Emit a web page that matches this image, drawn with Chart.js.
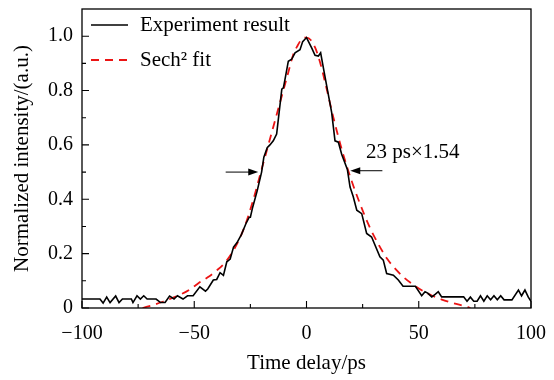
<!DOCTYPE html>
<html>
<head>
<meta charset="utf-8">
<title>Autocorrelation trace</title>
<script src="https://cdn.jsdelivr.net/npm/chart.js@4.4.1/dist/chart.umd.min.js"></script>
<style>
	html, body { margin: 0; padding: 0; background: #fff; }
	canvas { display: block; }
</style>
</head>
<body>
<canvas id="trace" width="554" height="380"></canvas>
<script>
// Measured autocorrelation (time delay in ps, normalized intensity)
const expDelay = [-100, -92, -90.6, -89, -87.5, -85, -83.5, -82, -78, -77.3, -75.5, -74, -72.5, -71, -67, -65, -63, -61, -59, -57.5, -55, -53, -50.5, -47.5, -45, -44, -41.5, -40, -38.5, -37, -35.5, -34, -32.5, -31, -29, -27, -25.5, -25, -24, -22, -20, -19, -17.5, -16.3, -14.8, -13.3, -11, -10.3, -9.6, -8.1, -6.6, -5.1, -2.9, -1.7, 0, 2.3, 3.8, 5.3, 6.3, 7.5, 9, 11.2, 12.7, 14.2, 15.7, 18.2, 19.4, 20.8, 22.4, 24.6, 26.8, 29, 32.7, 34.2, 35.7, 38.7, 40.9, 43, 48.5, 51.3, 52.8, 54, 55.8, 57.3, 58.7, 60.2, 70, 71.5, 73, 74.5, 76, 77.5, 79, 80.5, 82, 83.5, 85, 86.5, 88, 91.5, 94.4, 95.8, 97.3, 98.8, 100];
const expIntensity = [0.033, 0.033, 0.018, 0.04, 0.02, 0.044, 0.02, 0.033, 0.033, 0.02, 0.045, 0.033, 0.045, 0.033, 0.033, 0.02, 0.02, 0.044, 0.033, 0.045, 0.033, 0.045, 0.045, 0.078, 0.062, 0.07, 0.103, 0.105, 0.13, 0.12, 0.17, 0.18, 0.224, 0.24, 0.27, 0.31, 0.334, 0.334, 0.37, 0.43, 0.5, 0.555, 0.59, 0.6, 0.615, 0.64, 0.805, 0.81, 0.84, 0.908, 0.915, 0.939, 0.95, 0.98, 0.995, 0.957, 0.93, 0.927, 0.939, 0.884, 0.817, 0.72, 0.615, 0.61, 0.565, 0.51, 0.445, 0.41, 0.36, 0.347, 0.274, 0.261, 0.188, 0.176, 0.127, 0.121, 0.103, 0.08, 0.08, 0.045, 0.06, 0.055, 0.041, 0.05, 0.06, 0.041, 0.041, 0.025, 0.04, 0.025, 0.025, 0.045, 0.025, 0.045, 0.03, 0.045, 0.03, 0.045, 0.03, 0.03, 0.066, 0.045, 0.066, 0.04, 0.025];

// Sech² fit
const fitDelay = [-73, -68, -64, -60, -56, -52, -48, -44, -40, -36, -32, -28, -24, -20, -16, -12, -8, -6, -4, -2, 0, 2, 4, 6, 8, 12, 16, 20, 24, 28, 32, 36, 40, 44, 48, 52, 56, 60, 64, 68, 72, 73];
const fitIntensity = [0, 0.012, 0.023, 0.036, 0.05, 0.068, 0.092, 0.113, 0.138, 0.17, 0.22, 0.29, 0.39, 0.51, 0.63, 0.75, 0.87, 0.93, 0.965, 0.99, 0.995, 0.985, 0.955, 0.905, 0.84, 0.7, 0.575, 0.47, 0.38, 0.3, 0.235, 0.18, 0.14, 0.108, 0.083, 0.062, 0.045, 0.032, 0.021, 0.012, 0.003, 0];

const xTicks = [-100, -50, 0, 50, 100];
const xMinorTicks = [-75, -25, 25, 75];
const yTicks = [0, 0.2, 0.4, 0.6, 0.8, 1.0];
const yMinorTicks = [0.1, 0.3, 0.5, 0.7, 0.9];

const legendLabels = ['Experiment result', 'Sech\u00b2 fit'];
const widthNote = '23 ps\u00d71.54';
// half maximum markers: [tail delay, tip delay, intensity]
const leftMarker = [-36, -21.5, 0.5];
const rightMarker = [33.8, 19.5, 0.505];

const serif = '"Liberation Serif", "Times New Roman", serif';
const fitRed = 'rgb(235, 20, 20)';

function toPoints(xs, ys) {
	return xs.map((x, i) => ({ x: x, y: ys[i] }));
}

function drawArrow(ctx, x1, x2, y) {
	const dir = Math.sign(x2 - x1);
	ctx.beginPath();
	ctx.moveTo(x1, y);
	ctx.lineTo(x2 - dir * 6, y);
	ctx.stroke();
	ctx.beginPath();
	ctx.moveTo(x2, y);
	ctx.lineTo(x2 - dir * 10, y - 3.5);
	ctx.lineTo(x2 - dir * 10, y + 3.5);
	ctx.closePath();
	ctx.fill();
}

const decor = {
	id: 'decor',
	afterDraw(chart) {
		const ctx = chart.ctx;
		const area = chart.chartArea;
		const xs = chart.scales.x;
		const ys = chart.scales.y;
		ctx.save();
		ctx.strokeStyle = '#000';
		ctx.fillStyle = '#000';
		ctx.lineWidth = 1.3;
		ctx.strokeRect(area.left, area.top, area.right - area.left, area.bottom - area.top);

		// inward ticks on bottom and left
		ctx.lineWidth = 1.1;
		ctx.beginPath();
		xTicks.forEach(v => { const p = xs.getPixelForValue(v); ctx.moveTo(p, area.bottom); ctx.lineTo(p, area.bottom - 7); });
		xMinorTicks.forEach(v => { const p = xs.getPixelForValue(v); ctx.moveTo(p, area.bottom); ctx.lineTo(p, area.bottom - 4); });
		yTicks.forEach(v => { const p = ys.getPixelForValue(v); ctx.moveTo(area.left, p); ctx.lineTo(area.left + 7, p); });
		yMinorTicks.forEach(v => { const p = ys.getPixelForValue(v); ctx.moveTo(area.left, p); ctx.lineTo(area.left + 4, p); });
		ctx.stroke();

		// legend
		ctx.font = '21px ' + serif;
		ctx.textBaseline = 'middle';
		ctx.lineWidth = 1.6;
		ctx.beginPath();
		ctx.moveTo(area.left + 9, 25);
		ctx.lineTo(area.left + 46, 25);
		ctx.stroke();
		ctx.fillText(legendLabels[0], area.left + 58, 25);
		ctx.strokeStyle = fitRed;
		ctx.lineWidth = 1.8;
		ctx.setLineDash([8, 6]);
		ctx.beginPath();
		ctx.moveTo(area.left + 9, 60);
		ctx.lineTo(area.left + 46, 60);
		ctx.stroke();
		ctx.setLineDash([]);
		ctx.fillText(legendLabels[1], area.left + 58, 60);

		// FWHM arrows and note
		ctx.strokeStyle = '#000';
		ctx.lineWidth = 1;
		drawArrow(ctx, xs.getPixelForValue(leftMarker[0]), xs.getPixelForValue(leftMarker[1]), ys.getPixelForValue(leftMarker[2]));
		drawArrow(ctx, xs.getPixelForValue(rightMarker[0]), xs.getPixelForValue(rightMarker[1]), ys.getPixelForValue(rightMarker[2]));
		ctx.textBaseline = 'alphabetic';
		ctx.fillText(widthNote, xs.getPixelForValue(26.5), ys.getPixelForValue(0.552));
		ctx.restore();
	}
};

const chart = new Chart(document.getElementById('trace').getContext('2d'), {
	type: 'line',
	data: {
		datasets: [
			{
				label: legendLabels[0],
				data: toPoints(expDelay, expIntensity),
				borderColor: '#000',
				borderWidth: 1.6,
				pointRadius: 0,
				tension: 0,
				order: 0
			},
			{
				label: legendLabels[1],
				data: toPoints(fitDelay, fitIntensity),
				borderColor: fitRed,
				borderWidth: 1.8,
				borderDash: [8, 6],
				pointRadius: 0,
				cubicInterpolationMode: 'monotone',
				order: 1
			}
		]
	},
	options: {
		responsive: false,
		animation: false,
		layout: { padding: { top: 9, right: 23, left: 0, bottom: 0 } },
		plugins: {
			legend: { display: false },
			tooltip: { enabled: false }
		},
		scales: {
			x: {
				type: 'linear',
				min: -100,
				max: 100,
				afterBuildTicks: scale => { scale.ticks = xTicks.map(v => ({ value: v })); },
				afterFit: scale => {
					scale.height = 72;
					scale.paddingLeft = 0;
					scale.paddingRight = 0;
				},
				grid: { display: false, drawTicks: false },
				border: { display: false },
				ticks: {
					color: '#000',
					padding: 14,
					font: { family: serif, size: 20 },
					callback: v => String(v).replace('-', '\u2212')
				},
				title: {
					display: true,
					text: 'Time delay/ps',
					color: '#000',
					font: { family: serif, size: 21 },
					padding: { top: 0, bottom: 4 }
				}
			},
			y: {
				min: 0,
				max: 1.1,
				afterBuildTicks: scale => { scale.ticks = yTicks.map(v => ({ value: v })); },
				afterFit: scale => {
					scale.width = 82;
					scale.paddingTop = 0;
					scale.paddingBottom = 0;
				},
				grid: { display: false, drawTicks: false },
				border: { display: false },
				ticks: {
					color: '#000',
					padding: 9,
					font: { family: serif, size: 20 },
					callback: v => v === 0 ? '0' : v.toFixed(1)
				},
				title: {
					display: true,
					text: 'Normalized intensity/(a.u.)',
					color: '#000',
					font: { family: serif, size: 21 },
					padding: { top: 10, bottom: 0 }
				}
			}
		}
	},
	plugins: [decor]
});
</script>
</body>
</html>
